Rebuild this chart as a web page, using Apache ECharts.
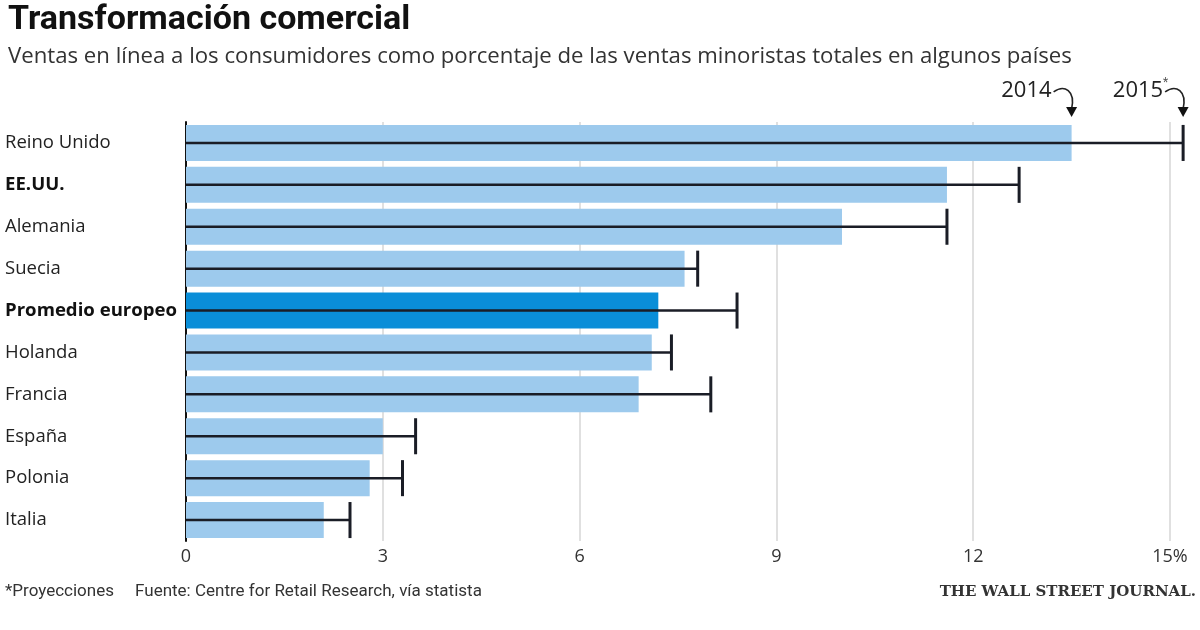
<!DOCTYPE html>
<html><head><meta charset="utf-8">
<script src="https://cdn.jsdelivr.net/npm/echarts@6/dist/echarts.min.js"></script>
<style>html,body{margin:0;padding:0;background:#fff}#c{width:1200px;height:630px}</style>
</head><body><div id="c"></div>
<script>
const categories = ['Reino Unido','EE.UU.','Alemania','Suecia','Promedio europeo','Holanda','Francia','España','Polonia','Italia'];
const values2014 = [13.5, 11.6, 10.0, 7.6, 7.2, 7.1, 6.9, 3.0, 2.8, 2.1];
const values2015 = [15.2, 12.7, 11.6, 7.8, 8.4, 7.4, 8.0, 3.5, 3.3, 2.5];
const boldCats = ['EE.UU.','Promedio europeo'];
const highlightCat = 'Promedio europeo';
const tickLabels = ['0','3','6','9','12','15%'];

const FONT = 'Roboto, "Noto Sans", sans-serif';
const FONT2 = '"Open Sans", Roboto, sans-serif';
const chart = echarts.init(document.getElementById('c'), null, {renderer:'canvas'});

const option = {
  animation:false,
  backgroundColor:'#fff',
  title:{
    text:'Transformación comercial',
    subtext:'Ventas en línea a los consumidores como porcentaje de las ventas minoristas totales en algunos países',
    left:3, top:-2, itemGap:9,
    textStyle:{fontFamily:FONT, fontSize:34, fontWeight:'bold', color:'#111'},
    subtextStyle:{fontFamily:FONT2, fontSize:22.2, color:'#333'}
  },
  grid:{left:186, right:30, top:122, bottom:89, containLabel:false},
  xAxis:{
    type:'value', min:0, max:15, interval:3,
    axisLine:{show:false}, axisTick:{show:false},
    splitLine:{show:true, lineStyle:{color:'#d6d6d6', width:1.5}},
    axisLabel:{margin:7, fontFamily:FONT2, fontSize:18, color:'#333',
      formatter:(v)=>tickLabels[Math.round(v/3)] ?? ''}
  },
  yAxis:{
    type:'category', data:categories, inverse:true,
    axisLine:{show:true, lineStyle:{color:'#111', width:2}},
    axisTick:{show:false},
    axisLabel:{
      align:'left', margin:181, fontFamily:FONT2, fontSize:18.5, color:'#222',
      formatter:(v)=> boldCats.includes(v) ? '{b|'+v+'}' : v,
      rich:{b:{fontFamily:FONT2, fontSize:18.6, fontWeight:'bold', color:'#111'}}
    }
  },
  series:[
    {
      type:'bar', barWidth:'86%', z:2,
      data: values2014.map((v,i)=>({value:v, itemStyle:{color: categories[i]===highlightCat ? '#0a8ed8' : '#9dcaed'}}))
    },
    {
      type:'custom', z:5, clip:false,
      data: values2015.map((v,i)=>[v,i]),
      renderItem:(params, api)=>{
        const i = api.value(1);
        const start = api.coord([0, i]);
        const end = api.coord([api.value(0), i]);
        const h = api.size([0,1])[1]*0.86;
        return {type:'group', children:[
          {type:'line', shape:{x1:start[0], y1:start[1], x2:end[0], y2:end[1]}, style:{stroke:'#1a1d26', lineWidth:2.5}},
          {type:'line', shape:{x1:end[0], y1:end[1]-h/2, x2:end[0], y2:end[1]+h/2}, style:{stroke:'#1a1d26', lineWidth:3}}
        ]};
      }
    }
  ]
};
chart.setOption(option);

// annotations tied to the first category's values
const p14 = chart.convertToPixel({gridIndex:0}, [values2014[0], 0]);
const p15 = chart.convertToPixel({gridIndex:0}, [values2015[0], 0]);
const bandH = chart.convertToPixel({gridIndex:0}, [0,1])[1] - p14[1];
const topY = p14[1] - bandH*0.43 - 8;
function arrow(tip, label){
  const tx = tip[0]-18, ty = topY - 26;
  return [
    {type:'text', style:{text:label, x:tx-2, y:ty, align:'right', verticalAlign:'middle', fontFamily:FONT2, fontSize:22, fill:'#222'}},
    {type:'bezierCurve', shape:{x1:tx, y1:ty+1, cpx1:tx+11, cpy1:ty-7, cpx2:tip[0]+4, cpy2:ty, x2:tip[0], y2:topY-8}, style:{stroke:'#222', lineWidth:1.6, fill:null}},
    {type:'polygon', shape:{points:[[tip[0]-5.5,topY-10],[tip[0]+5.5,topY-10],[tip[0],topY]]}, style:{fill:'#111'}}
  ];
}
const g = [].concat(arrow([p14[0], 0], '2014'), arrow([p15[0], 0], '2015'));
g.push({type:'text', style:{text:'*', x:p15[0]-20, y:topY-34, align:'left', verticalAlign:'middle', fontFamily:FONT, fontSize:12, fill:'#555'}});
g.push({type:'text', style:{text:'*Proyecciones     Fuente: Centre for Retail Research, vía statista', x:5, y:592, verticalAlign:'middle', fontFamily:FONT, fontSize:17, fill:'#333'}});
g.push({type:'text', style:{text:'THE WALL STREET JOURNAL.', x:1196, y:592, align:'right', verticalAlign:'middle', fontFamily:'"DejaVu Serif", "Liberation Serif", serif', fontSize:15, fontWeight:'bold', fill:'#333'}});
chart.setOption({graphic:g});
</script></body></html>
